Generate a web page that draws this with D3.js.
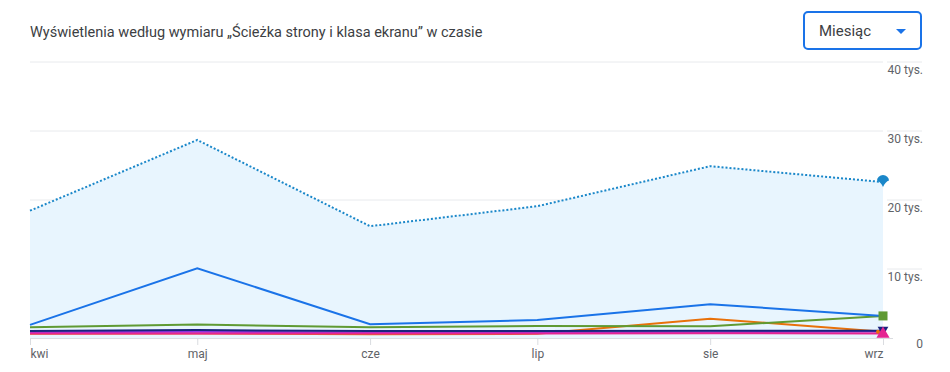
<!DOCTYPE html>
<html>
<head>
<meta charset="utf-8">
<script src="https://cdn.jsdelivr.net/npm/d3@7"></script>
<style>
  body { margin: 0; background: #fff; }
  svg { display: block; font-family: Roboto, "Noto Sans", sans-serif; }
</style>
</head>
<body>
<svg id="chart" width="950" height="372"></svg>
<script>
// months shown on the x axis (first day of each month)
var months = ["2023-04-01", "2023-05-01", "2023-06-01", "2023-07-01", "2023-08-01", "2023-09-01"];
var monthLabels = ["kwi", "maj", "cze", "lip", "sie", "wrz"];
var yTicks = [0, 10000, 20000, 30000, 40000];

// values
var total  = [18450, 28700, 16200, 19100, 24900, 22600];
var blue   = [1900, 10100, 2000, 2600, 4900, 3200];
var green  = [1550, 1950, 1550, 1750, 1700, 3200];
var orange = [600, 650, 550, 600, 2800, 900];
var purple = [850, 900, 800, 800, 850, 950];
var pink   = [650, 650, 650, 650, 700, 650];
var navy   = [1000, 1150, 1000, 1000, 1050, 1050];

var lines = [
  { name: "orange", values: orange, color: "#e8710a", marker: "dot" },
  { name: "purple", values: purple, color: "#9334e6", marker: null },
  { name: "green",  values: green,  color: "#5f9a33", marker: "square" },
  { name: "blue",   values: blue,   color: "#1a73e8", marker: null },
  { name: "navy",   values: navy,   color: "#1a237e", marker: "down" },
  { name: "pink",   values: pink,   color: "#e52592", marker: "up" }
];

var svg = d3.select("#chart");
var parse = d3.timeParse("%Y-%m-%d");
var dates = months.map(parse);

var x = d3.scaleTime()
  .domain([dates[0], dates[dates.length - 1]])
  .range([30, 883]);
var y = d3.scaleLinear()
  .domain([0, 40000])
  .range([338, 62]);

// title
svg.append("text")
  .attr("x", 30).attr("y", 37)
  .attr("fill", "#3c4043")
  .style("font-size", "14.5px")
  .text("Wyświetlenia według wymiaru „Ścieżka strony i klasa ekranu” w czasie");

// dropdown
svg.append("rect")
  .attr("x", 804).attr("y", 12)
  .attr("width", 117).attr("height", 37)
  .attr("rx", 4)
  .attr("fill", "#fff")
  .attr("stroke", "#1a73e8")
  .attr("stroke-width", 2);
svg.append("text")
  .attr("x", 819).attr("y", 36)
  .attr("fill", "#3c4043")
  .style("font-size", "15px")
  .text("Miesiąc");
svg.append("path")
  .attr("d", "M896,29 L906,29 L901,34 Z")
  .attr("fill", "#1a73e8");

// gridlines (split around the y labels)
var grid = svg.append("g");
yTicks.filter(d => d > 0).forEach(function(t) {
  grid.append("line")
    .attr("x1", 30).attr("x2", 883)
    .attr("y1", y(t)).attr("y2", y(t))
    .attr("stroke", "#e8eaed");
  grid.append("line")
    .attr("x1", 887).attr("x2", 922)
    .attr("y1", y(t)).attr("y2", y(t))
    .attr("stroke", "#e8eaed");
});

// y labels on the right, under each gridline
svg.append("g")
  .selectAll("text")
  .data(yTicks)
  .enter()
  .append("text")
  .attr("x", 923)
  .attr("y", d => d === 0 ? y(d) + 10 : y(d) + 12)
  .attr("text-anchor", "end")
  .attr("fill", "#5f6368")
  .style("font-size", "12px")
  .text(d => d === 0 ? "0" : (d / 1000) + " tys.");

// area under the dotted total
var area = d3.area()
  .x((d, i) => x(dates[i]))
  .y0(y(0))
  .y1(d => y(d));
svg.append("path")
  .datum(total)
  .attr("d", area)
  .attr("fill", "#e8f5fe");

// x axis
var xAxis = svg.append("g")
  .attr("transform", "translate(0," + y(0) + ")")
  .call(d3.axisBottom(x)
    .tickValues(dates)
    .tickSize(7)
    .tickFormat((d, i) => monthLabels[i]));
xAxis.select(".domain").attr("stroke", "#dadce0").attr("d", "M30,0.5H893");
xAxis.selectAll(".tick line").attr("stroke", "#dadce0");
xAxis.selectAll(".tick text")
  .attr("fill", "#5f6368")
  .attr("y", 11)
  .style("font-size", "12px")
  .style("font-family", "Roboto, sans-serif")
  .attr("text-anchor", (d, i) => i === 0 ? "start" : (i === dates.length - 1 ? "end" : "middle"));

// series lines
var line = d3.line()
  .x((d, i) => x(dates[i]))
  .y(d => y(d));

lines.forEach(function(s) {
  svg.append("path")
    .datum(s.values)
    .attr("d", line)
    .attr("fill", "none")
    .attr("stroke", s.color)
    .attr("stroke-width", 2);
});

// dotted total
svg.append("path")
  .datum(total)
  .attr("d", line)
  .attr("fill", "none")
  .attr("stroke", "#1a87c9")
  .attr("stroke-width", 2)
  .attr("stroke-dasharray", "2,2");

// end markers
var lastX = x(dates[dates.length - 1]);
lines.forEach(function(s) {
  var ly = y(s.values[s.values.length - 1]);
  if (s.marker === "square") {
    svg.append("rect")
      .attr("x", lastX - 4.5).attr("y", ly - 4.5)
      .attr("width", 9).attr("height", 9)
      .attr("fill", s.color);
  } else if (s.marker === "dot") {
    svg.append("circle")
      .attr("cx", lastX - 5).attr("cy", ly)
      .attr("r", 2)
      .attr("fill", s.color);
  } else if (s.marker === "down") {
    svg.append("path")
      .attr("d", d3.symbol(d3.symbolTriangle, 50)())
      .attr("transform", "translate(" + lastX + "," + (ly - 1) + ") rotate(180)")
      .attr("fill", s.color);
  } else if (s.marker === "up") {
    svg.append("path")
      .attr("d", d3.symbol(d3.symbolTriangle, 75)())
      .attr("transform", "translate(" + lastX + "," + (ly + 0.5) + ")")
      .attr("fill", s.color);
  }
});

// pin marker for the total
var ty = y(total[total.length - 1]);
svg.append("path")
  .attr("d", "M" + (lastX - 6) + "," + (ty - 1.5) +
    " a6,5.5 0 1,1 12,0 q-3.5,1 -6,6.5 q-2.5,-5.5 -6,-6.5 Z")
  .attr("fill", "#1a87c9");
</script>
</body>
</html>
